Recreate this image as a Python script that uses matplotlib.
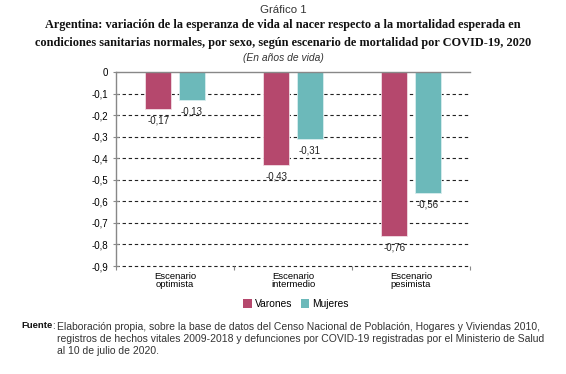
import matplotlib
matplotlib.use("Agg")
import matplotlib.pyplot as plt
import numpy as np
from matplotlib.patches import Patch

plt.rcParams["font.family"] = ["Liberation Sans", "DejaVu Sans"]

categories = ["Escenario\noptimista", "Escenario\nintermedio", "Escenario\npesimista"]
varones = [-0.17, -0.43, -0.76]
mujeres = [-0.13, -0.31, -0.56]
yticks = [0, -0.1, -0.2, -0.3, -0.4, -0.5, -0.6, -0.7, -0.8, -0.9]

c_var = "#B5486D"
c_muj = "#6CB9BA"

fig = plt.figure(figsize=(5.66, 3.74), dpi=100)
ax = fig.add_axes([116/566, 1-266/374, (470-116)/566, (266-72)/374])

x = np.arange(len(categories))
w = 0.225
off = 0.143
ax.bar(x - off, varones, w, color=c_var, edgecolor="#f2dde4", linewidth=0.6, zorder=3)
ax.bar(x + off, mujeres, w, color=c_muj, edgecolor="#d8eeee", linewidth=0.6, zorder=3)

def fmt(v):
    return ("-%.2f" % abs(v)).replace(".", ",")

for xi, v in zip(x, varones):
    ax.text(xi - off, v - 0.03, fmt(v), ha="center", va="top", fontsize=7, color="#222222")
for xi, v in zip(x, mujeres):
    ax.text(xi + off, v - 0.03, fmt(v), ha="center", va="top", fontsize=7, color="#222222")

ax.set_xlim(-0.5, 2.5)
ax.set_ylim(-0.9, 0)
ax.set_yticks(yticks)
ax.set_yticklabels(["0"] + [("-%.1f" % abs(t)).replace(".", ",") for t in yticks[1:]], fontsize=7)
for t in yticks[1:]:
    ax.axhline(t, color="#222222", linestyle=(0, (3, 2.5)), linewidth=0.8, zorder=1, clip_on=False)
ax.axhline(0, color="#888888", linewidth=1.0, zorder=4, clip_on=False)

for s in ["top", "right", "bottom"]:
    ax.spines[s].set_visible(False)
ax.spines["left"].set_color("#888888")
ax.spines["left"].set_linewidth(1.0)
ax.tick_params(axis="y", direction="inout", length=5, color="#888888", width=0.8, pad=3)

ax.set_xticks([-0.5, 0.5, 1.5, 2.5], minor=False)
ax.set_xticklabels([])
ax.tick_params(axis="x", direction="out", length=3, color="#888888", width=0.8)
ax.set_xticks(x, minor=True)
ax.set_xticklabels(categories, minor=True, fontsize=6.8, linespacing=0.95)
ax.tick_params(axis="x", which="minor", length=0, pad=4)

fig.text(0.5, 1-10/374, "Gráfico 1", ha="center", va="center", fontsize=8.2, color="#333333")
fig.text(0.5, 1-34/374,
         "Argentina: variación de la esperanza de vida al nacer respecto a la mortalidad esperada en\n"
         "condiciones sanitarias normales, por sexo, según escenario de mortalidad por COVID-19, 2020",
         ha="center", va="center", fontsize=8.8, family="Liberation Serif", weight="bold",
         linespacing=1.6, color="#111111")
fig.text(0.5, 1-58/374, "(En años de vida)", ha="center", va="center", fontsize=7.4,
         style="italic", color="#333333")

handles = [Patch(facecolor=c_var, edgecolor="none"), Patch(facecolor=c_muj, edgecolor="none")]
fig.legend(handles, ["Varones", "Mujeres"], loc="center", bbox_to_anchor=(296/566, 1-304/374),
           ncol=2, frameon=False, fontsize=7.4, handlelength=0.85, handleheight=0.85,
           handletextpad=0.3, columnspacing=0.8)

ft = fig.text(21/566, 1-326/374, "Fuente", fontsize=6.8, weight="bold", va="center", color="#111111")
fig.canvas.draw()
bb = ft.get_window_extent()
fig.text(bb.x1 / fig.bbox.width, 1-326/374, ":", fontsize=7.0, va="center", color="#333333")
fig.text(57/566, 1-339/374,
         "Elaboración propia, sobre la base de datos del Censo Nacional de Población, Hogares y Viviendas 2010,\n"
         "registros de hechos vitales 2009-2018 y defunciones por COVID-19 registradas por el Ministerio de Salud\n"
         "al 10 de julio de 2020.",
         fontsize=7.45, va="center", linespacing=1.3, color="#333333")

fig.savefig("out.png", dpi=100)
